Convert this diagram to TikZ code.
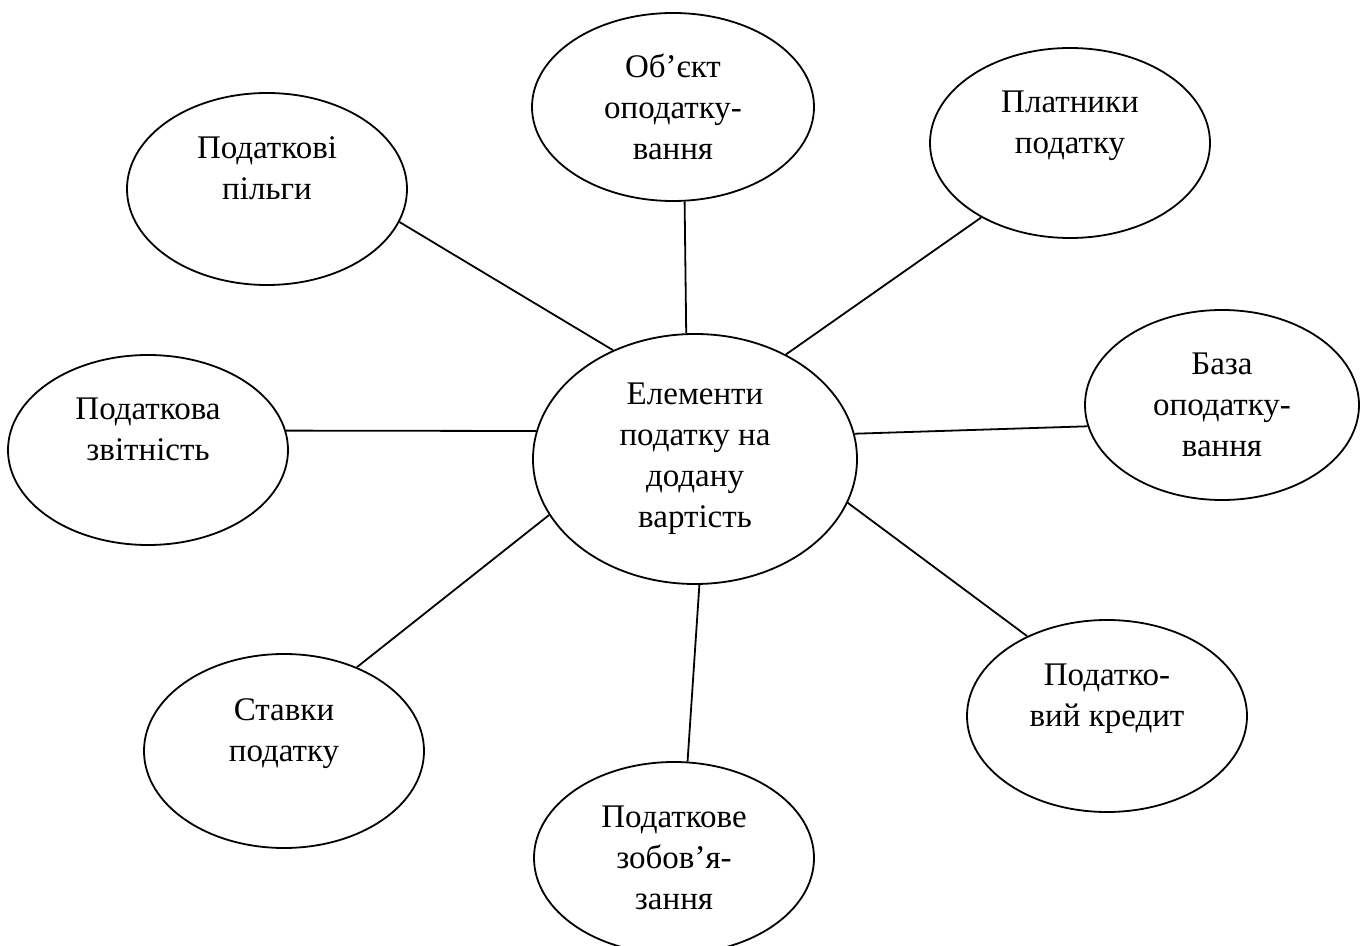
\documentclass[tikz,border=0pt]{standalone}
\usepackage{fontspec}
\setmainfont{Liberation Serif}
\usetikzlibrary{shapes.geometric}

\tikzset{
  elemnode/.style={ellipse, draw, line width=0.9pt, inner sep=0pt, align=center,
    minimum width=140pt, minimum height=96pt},
  enlace/.style={line width=0.9pt}
}

\begin{document}
\begin{tikzpicture}[x=0.5pt, y=-0.5pt, font=\fontsize{16.5}{20.5}\selectfont]
  % marco de la figura (en pixeles de la referencia)
  \useasboundingbox (0,0) rectangle (1361,946);
  % nodo central
  \node[elemnode, minimum width=162pt, minimum height=125pt] (elem) at (695,459)
    {Елементи\\податку на\\додану\\вартість};
  % elementos alrededor, en sentido horario desde arriba
  \node[elemnode, minimum width=141pt, minimum height=94pt] (obj) at (673,107)
    {Об’єкт\\оподатку-\\вання};
  \node[elemnode, minimum height=95pt] (plat) at (1070,143) {Платники\\податку\\\mbox{}};
  \node[elemnode, minimum width=137pt, minimum height=95pt] (baza) at (1222,405)
    {База\\оподатку-\\вання};
  \node[elemnode] (kred) at (1107,716) {Податко-\\вий кредит\\\mbox{}};
  \node[elemnode] (zobov) at (674,858) {Податкове\\зобов’я-\\зання};
  \node[elemnode, minimum height=97pt] (stav) at (284,751) {Ставки\\податку\\\mbox{}};
  \node[elemnode, minimum height=95pt] (zvit) at (148,450) {Податкова\\звітність\\\mbox{}};
  \node[elemnode] (pilg) at (267,189) {Податкові\\пільги\\\mbox{}};
  % enlaces al nodo central
  \draw[enlace] (obj.-83) -- (elem.94);
  \draw[enlace] (plat.220) -- (elem.49);
  \draw[enlace] (baza.189) -- (elem.9);
  \draw[enlace] (kred.135) -- (elem.-16);
  \draw[enlace] (zobov.82) -- (elem.-88);
  \draw[enlace] (stav.49) -- (elem.201);
  \draw[enlace] (zvit.8) -- (elem.170);
  \draw[enlace] (pilg.-14) -- (elem.127);
\end{tikzpicture}
\end{document}
